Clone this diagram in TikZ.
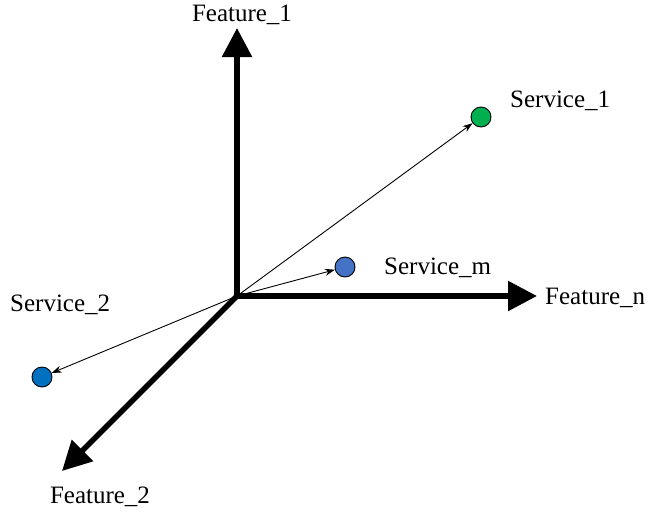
\documentclass[tikz,border=0pt]{standalone}
\usepackage{fontspec}
\setmainfont{Liberation Serif}
\usepackage{tikz}
\usetikzlibrary{arrows.meta}

\definecolor{svcgreen}{RGB}{0,176,80}
\definecolor{svcblue}{RGB}{68,114,196}
\definecolor{svcdeep}{RGB}{0,112,192}

\tikzset{
  axis/.style={line width=5.5pt,-{Triangle[length=29pt,width=29pt]}},
  vec/.style={line width=0.9pt,-{Stealth[length=10pt,width=7pt]}},
  svc/.style={circle,draw=black,line width=0.9pt,minimum size=20pt,inner sep=0pt},
  lbl/.style={font=\fontsize{25}{29}\selectfont,inner sep=0pt}
}

\begin{document}
\begin{tikzpicture}[x=1pt,y=-1pt]
    \useasboundingbox (0,0) rectangle (648,520);
    % Origin and axis tips
    \coordinate (O) at (237,296);
    \coordinate (f1) at (237,28);
    \coordinate (fn) at (537,296);
    \coordinate (f2) at (62,471);
    % Axes
    \draw[axis] (O) -- (f1);
    \draw[axis] (O) -- (fn);
    \draw[axis] (O) -- (f2);
    \node[lbl] (lf1) at (242,15) {Feature\_1};
    \node[lbl,anchor=west] (lfn) at (545,298) {Feature\_n};
    \node[lbl] (lf2) at (100,497) {Feature\_2};
    % Services
    \node[svc,fill=svcgreen] (s1) at (481,117) {};
    \node[svc,fill=svcblue] (sm) at (345,267) {};
    \node[svc,fill=svcdeep] (s2) at (42,377) {};
    \node[lbl,anchor=west] (ls1) at (510,101) {Service\_1};
    \node[lbl,anchor=west] (lsm) at (384,268) {Service\_m};
    \node[lbl,anchor=west] (ls2) at (10,305) {Service\_2};
    % Service vectors
    \draw[vec] (O) -- (s1);
    \draw[vec] (O) -- (sm);
    \draw[vec] (O) -- (s2);
\end{tikzpicture}
\end{document}
